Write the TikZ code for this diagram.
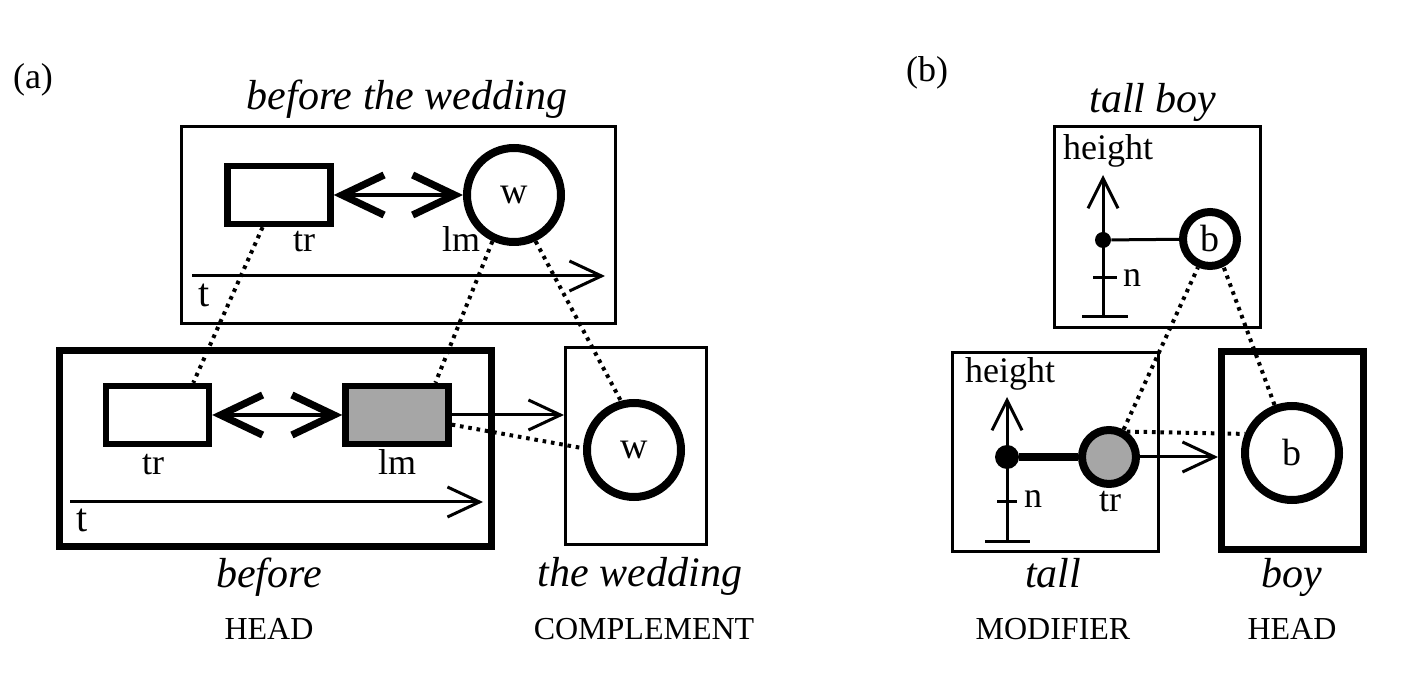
\documentclass[tikz,border=0pt]{standalone}
\usepackage{fontspec}
\setmainfont{Liberation Serif}
\usetikzlibrary{arrows.meta}
\definecolor{lmgray}{RGB}{166,166,166}

\begin{document}
\begin{tikzpicture}[x=0.5pt, y=-0.5pt,
    box/.style={draw, line width=1.5pt, inner sep=0pt},
    bigbox/.style={draw, line width=3.5pt, inner sep=0pt},
    thing/.style={draw, line width=3.2pt, inner sep=0pt, minimum width=51.5pt, minimum height=29pt},
    ent/.style={draw, circle, line width=4pt, inner sep=0pt, fill=white, font=\fontsize{19}{22}\selectfont},
    blob/.style={circle, fill, inner sep=0pt},
    tag/.style={font=\fontsize{18}{21}\selectfont},
    lbl/.style={anchor=base, inner sep=0pt, font=\fontsize{18}{21}\selectfont},
    phrase/.style={anchor=base, inner sep=0pt, font=\fontsize{21}{25}\selectfont\itshape},
    role/.style={anchor=base, inner sep=0pt, font=\fontsize{16}{19}\selectfont},
    dots/.style={line width=2pt, dash pattern=on 1.8pt off 2.4pt},
    axisline/.style={line width=1.5pt},
    timearr/.style={line width=1.5pt, -{Straight Barb[length=16pt, width=15pt]}},
    relarr/.style={line width=2pt, {Straight Barb[length=21pt, width=20pt, line width=3.6pt]}-{Straight Barb[length=21pt, width=20pt, line width=3.6pt]}},
    axisarr/.style={line width=1.5pt, -{Straight Barb[length=15pt, width=15pt]}}]
    \useasboundingbox (0, 0) rectangle (1414, 694);

    % (a) before the wedding
    \node[tag] at (33, 80) (taga) {(a)};
    \node[phrase] at (407, 110) (phrtop) {before the wedding};
    \node[box, minimum width=217pt, minimum height=98.5pt] at (398.5, 225) (topbox) {};
    \node[bigbox, minimum width=216pt, minimum height=98pt] at (275.5, 448.5) (headbox) {};
    \node[box, minimum width=70.5pt, minimum height=98.5pt] at (636, 446) (compbox) {};

    \node[thing] at (279, 195) (trtop) {};
    \node[ent, minimum size=47pt] at (514, 195) (wtop) {w};
    \node[lbl] at (304, 252) (trtoplbl) {tr};
    \node[lbl] at (461, 252) (lmtoplbl) {lm};
    \draw[relarr] (trtop) -- (wtop);

    \coordinate (ttop0) at (192, 276);
    \coordinate (ttop1) at (605, 276);
    \draw[timearr] (ttop0) -- (ttop1);
    \node[lbl, font=\fontsize{20}{23}\selectfont] at (204, 307) (ttoplbl) {t};

    \node[thing] at (157.5, 415) (trbot) {};
    \node[thing, fill=lmgray] at (397, 415) (lmbot) {};
    \node[lbl] at (153, 475) (trbotlbl) {tr};
    \node[lbl] at (397, 475) (lmbotlbl) {lm};
    \draw[relarr] (trbot) -- (lmbot);

    \coordinate (tbot0) at (70, 502);
    \coordinate (tbot1) at (483, 502);
    \draw[timearr] (tbot0) -- (tbot1);
    \node[lbl, font=\fontsize{20}{23}\selectfont] at (82, 532) (tbotlbl) {t};

    \node[ent, minimum size=47pt] at (634, 450) (wbot) {w};
    \draw[timearr] (lmbot.east) -- (lmbot.east -| compbox.west);

    \draw[dots] (trtop.243) -- (trbot.42);
    \draw[dots] (wtop.245) -- (lmbot.40);
    \draw[dots] (wtop.295) -- (wbot.105);
    \draw[dots] (lmbot.-10) -- (wbot.178);

    \node[phrase] at (269, 588) (phrbefore) {before};
    \node[phrase] at (640, 587) (phrwedding) {the wedding};
    \node[role] at (269, 640) (rolehead) {HEAD};
    \node[role] at (644, 640) (rolecomp) {COMPLEMENT};

    % (b) tall boy
    \node[tag] at (927, 73) (tagb) {(b)};
    \node[phrase] at (1153, 113) (phrtallboy) {tall boy};
    \node[box, minimum width=103pt, minimum height=100.5pt] at (1157.5, 227) (tbbox) {};
    \node[box, minimum width=103pt, minimum height=99.5pt] at (1055.5, 452) (tallbox) {};
    \node[bigbox, minimum width=71pt, minimum height=99pt] at (1292.5, 450.5) (boybox) {};

    \node[lbl] at (1108, 160) (htoplbl) {height};
    \coordinate (hbot1) at (1103, 317);
    \coordinate (htip1) at (1103, 175);
    \coordinate (barL1) at (1082, 317);
    \coordinate (barR1) at (1128, 317);
    \coordinate (tickL1) at (1093, 278);
    \coordinate (tickR1) at (1117, 278);
    \draw[axisarr] (hbot1) -- (htip1);
    \draw[axisline] (barL1) -- (barR1);
    \draw[axisline] (tickL1) -- (tickR1);
    \node[lbl] at (1132, 287) (ntop) {n};
    \node[blob, minimum size=8pt] at (1103, 240) (dottop) {};
    \node[ent, minimum size=27pt] at (1210, 239) (btop) {b};
    \draw[axisline] (dottop) -- (btop);

    \node[lbl] at (1010, 383) (hbotlbl) {height};
    \coordinate (hbot2) at (1007, 542);
    \coordinate (htip2) at (1007, 397);
    \coordinate (barL2) at (985, 542);
    \coordinate (barR2) at (1030, 542);
    \coordinate (tickL2) at (997, 502);
    \coordinate (tickR2) at (1017, 502);
    \draw[axisarr] (hbot2) -- (htip2);
    \draw[axisline] (barL2) -- (barR2);
    \draw[axisline] (tickL2) -- (tickR2);
    \node[lbl] at (1033, 508) (nbot) {n};
    \node[blob, minimum size=12pt] at (1007, 457) (dotbot) {};
    \node[ent, minimum size=27pt, fill=lmgray] at (1109, 457) (trb) {};
    \node[lbl] at (1110, 512) (trblbl) {tr};
    \draw[line width=4pt] (dotbot) -- (trb);

    \node[ent, minimum size=47pt] at (1292, 453) (bbig) {b};
    \draw[timearr] (trb.east) -- (trb.east -| boybox.west);

    \draw[dots] (trb.55) -- (bbig.158);
    \draw[dots] (trb.62) -- (btop.247);
    \draw[dots] (bbig.110) -- (btop.296);

    \node[phrase] at (1053, 588) (phrtall) {tall};
    \node[phrase] at (1292, 588) (phrboy) {boy};
    \node[role] at (1053, 640) (rolemod) {MODIFIER};
    \node[role] at (1292, 640) (rolehead2) {HEAD};
\end{tikzpicture}
\end{document}
